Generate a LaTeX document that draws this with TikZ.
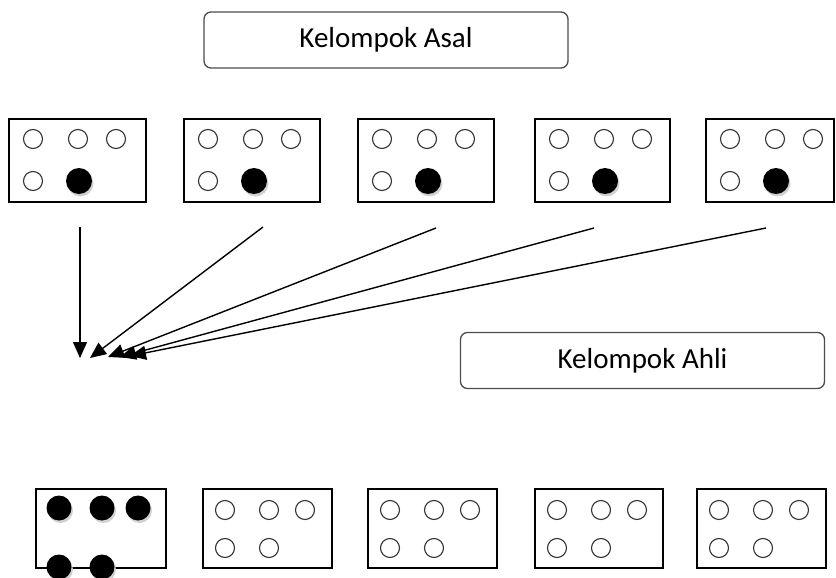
\documentclass[tikz,border=0pt]{standalone}
\usepackage{fontspec}
\setmainfont{Carlito}
\usetikzlibrary{arrows.meta}
\begin{document}
\begin{tikzpicture}[x=1pt,y=-1pt,
  title/.style={draw=black!70,line width=1.3pt,rounded corners=7pt,minimum width=364pt,minimum height=56pt,inner sep=0pt,font=\fontsize{29}{34}\selectfont},
  grp/.style={draw=black,line width=1.2pt,fill=white},
  open/.style={draw=black!80,line width=1.1pt,fill=white},
  full/.style={fill=black},
  shad/.style={fill=black!18},
  arr/.style={-{Triangle[length=16pt,width=14pt]},line width=1.4pt,shorten >=0pt}]
\useasboundingbox (0,0) rectangle (836,578);
% titles
\node[title] (asal) at (386,40) {Kelompok Asal};
\node[title] (ahli) at (642.5,360.5) {Kelompok Ahli};
% top row
\foreach \i/\x/\w in {1/9/137,2/184/136,3/358/136,4/535/135,5/706/128}{
  \draw[grp] (\x,119) rectangle ++(\w,83);
  \coordinate (top\i) at (\x,202);
  \draw[open] (\x+24,139) circle (9.5);
  \draw[open] (\x+69,139) circle (9.5);
  \draw[open] (\x+107,139) circle (9.5);
  \draw[open] (\x+24,181) circle (9.5);
  \fill[shad] (\x+71.5,183.5) circle (13);
  \fill[full] (\x+70,181) circle (13);
}
% arrows
\coordinate (s1) at (80,227);  \coordinate (e1) at (80,358);
\coordinate (s2) at (263,227); \coordinate (e2) at (90,358);
\coordinate (s3) at (436,228); \coordinate (e3) at (108,357);
\coordinate (s4) at (594,228); \coordinate (e4) at (120,357);
\coordinate (s5) at (766,228); \coordinate (e5) at (130,356);
\foreach \i in {1,...,5}{\draw[arr] (s\i) -- (e\i);}
% bottom row
\draw[grp] (36,489) rectangle (166,568);
\foreach \p in {(60.5,510.5),(103.5,510.5),(139.5,510.5),(60.5,569.5),(103.5,569.5)}{
  \fill[shad] \p circle (12.5);
}
\foreach \p in {(59,508),(102,508),(138,508),(59,567),(102,567)}{
  \fill[full] \p circle (12.5);
}
\foreach \i/\x/\w in {2/203/129,3/368/129,4/535/128,5/697/129}{
  \draw[grp] (\x,489) rectangle ++(\w,79);
  \draw[open] (\x+22,510) circle (9.5);
  \draw[open] (\x+66,510) circle (9.5);
  \draw[open] (\x+102,510) circle (9.5);
  \draw[open] (\x+22,548) circle (9.5);
  \draw[open] (\x+66,548) circle (9.5);
}
\end{tikzpicture}
\end{document}
